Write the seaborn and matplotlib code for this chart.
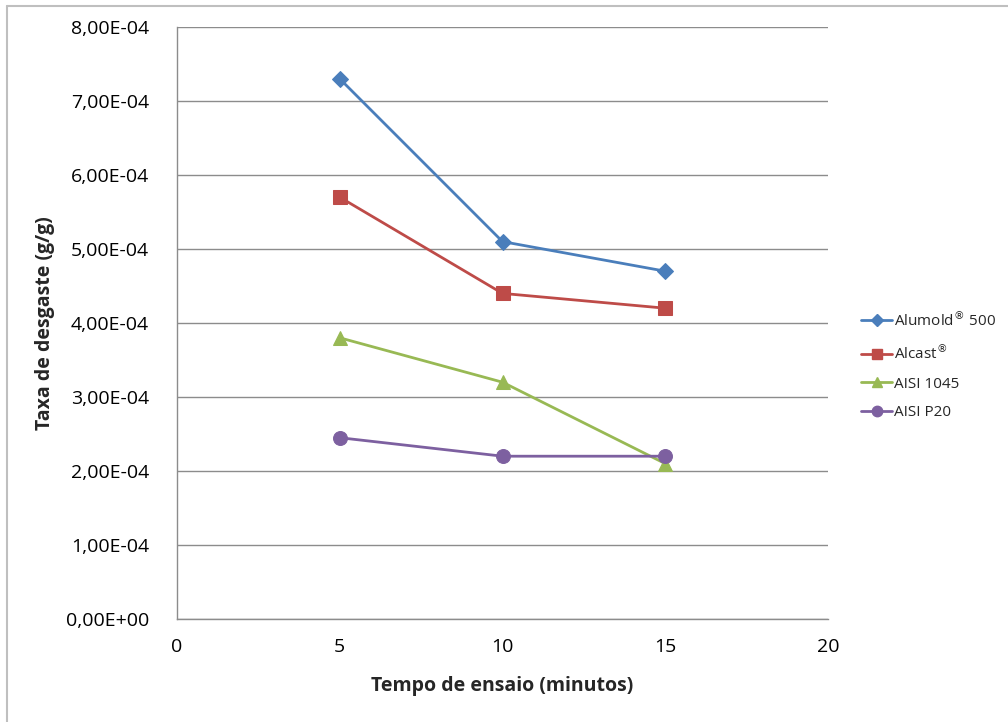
import matplotlib
matplotlib.use("Agg")
import matplotlib.pyplot as plt
from matplotlib.lines import Line2D
from matplotlib.ticker import FuncFormatter, MultipleLocator
import seaborn as sns
import pandas as pd

tempo = [5, 10, 15]
alumold = [7.30e-4, 5.10e-4, 4.70e-4]
alcast = [5.70e-4, 4.40e-4, 4.20e-4]
aisi_1045 = [3.80e-4, 3.20e-4, 2.10e-4]
aisi_p20 = [2.45e-4, 2.20e-4, 2.20e-4]

series_names = [r"Alumold$^{\circledR}$ 500", r"Alcast$^{\circledR}$", "AISI 1045", "AISI P20"]
series_values = [alumold, alcast, aisi_1045, aisi_p20]
colors = ["#4A7EBB", "#BE4B48", "#98B954", "#7D60A0"]
markers = ["D", "s", "^", "o"]
msizes = [8, 10, 10, 10]

rows = []
for name, vals in zip(series_names, series_values):
    for t, v in zip(tempo, vals):
        rows.append({"Tempo": t, "Taxa": v, "Material": name})
df = pd.DataFrame(rows)

sns.set_theme(style="white")
plt.rcParams["font.family"] = ["Open Sans", "DejaVu Sans"]
plt.rcParams["mathtext.fontset"] = "dejavusans"

fig = plt.figure(figsize=(10.08, 7.22), dpi=100)
ax = fig.add_axes([177 / 1008, 1 - 619 / 722, (828 - 177) / 1008, (619 - 27) / 722])

for name, c, m, ms in zip(series_names, colors, markers, msizes):
    sub = df[df["Material"] == name]
    sns.lineplot(data=sub, x="Tempo", y="Taxa", ax=ax, color=c, marker=m,
                 markersize=ms, markeredgecolor=c, linewidth=2.0, label=name,
                 legend=False)

ax.set_xlim(0, 20)
ax.set_ylim(0, 8e-4)
ax.xaxis.set_major_locator(MultipleLocator(5))
ax.yaxis.set_major_locator(MultipleLocator(1e-4))
ax.yaxis.set_major_formatter(FuncFormatter(lambda v, p: f"{v:.2E}".replace(".", ",")))
ax.yaxis.get_offset_text().set_visible(False)

ax.grid(axis="y", color="#8C8C8C", linewidth=1.0)
ax.grid(axis="x", visible=False)
for s in ["top", "right"]:
    ax.spines[s].set_visible(False)
for s in ["left", "bottom"]:
    ax.spines[s].set_color("#8C8C8C")
    ax.spines[s].set_linewidth(1.0)
ax.tick_params(axis="both", length=0, labelsize=14, colors="#000000")
ax.tick_params(axis="x", pad=14)
ax.tick_params(axis="y", pad=20)

ax.set_xlabel("Tempo de ensaio (minutos)", fontsize=14, fontweight="bold", labelpad=14)
ax.set_ylabel("Taxa de desgaste (g/g)", fontsize=14, fontweight="bold", labelpad=8)

handles = [Line2D([0], [0], color=c, marker=m, markersize=ms * 0.75, markeredgecolor=c,
                  linewidth=2.0) for c, m, ms in zip(colors, markers, msizes)]
fig.legend(handles, series_names, loc="center left", bbox_to_anchor=(0.841, 0.494),
           frameon=False, fontsize=11, handlelength=2.0, handletextpad=0.1,
           labelspacing=0.9)

# outer chart border
fig.add_artist(Line2D([7 / 1008, 7 / 1008], [0, 1 - 6 / 722], transform=fig.transFigure,
                      color="#BFBFBF", linewidth=1.5))
fig.add_artist(Line2D([7 / 1008, 1], [1 - 6 / 722, 1 - 6 / 722], transform=fig.transFigure,
                      color="#BFBFBF", linewidth=1.5))

fig.savefig("out.png", dpi=100)
